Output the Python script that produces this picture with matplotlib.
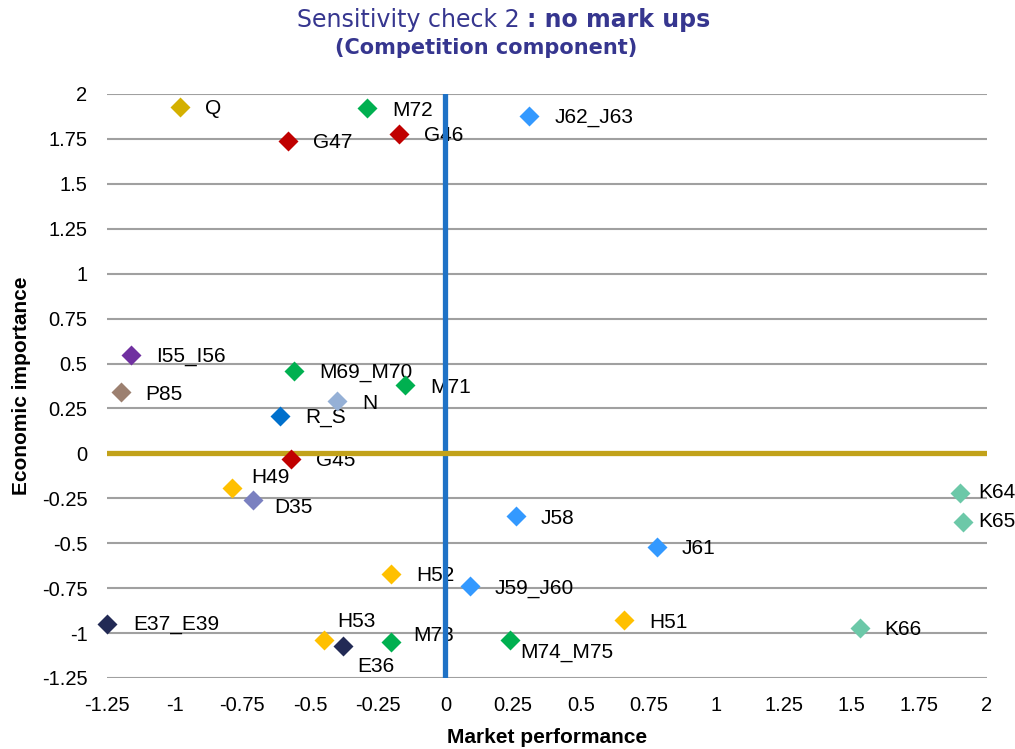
import matplotlib.pyplot as plt

plt.rcParams['axes.unicode_minus'] = False
plt.rcParams['font.family'] = ['Liberation Sans', 'DejaVu Sans']

# Sector positions: market performance (x) vs economic importance (y)
sectors = ['Q', 'M72', 'G47', 'G46', 'J62_J63', 'I55_I56', 'P85', 'M69_M70',
           'M71', 'N', 'R_S', 'G45', 'H49', 'D35', 'J58', 'J61', 'K64', 'K65',
           'H52', 'J59_J60', 'H51', 'K66', 'M74_M75', 'E37_E39', 'H53', 'E36', 'M73']
market_perf = [-0.98, -0.29, -0.58, -0.17, 0.31, -1.16, -1.20, -0.56,
               -0.15, -0.40, -0.61, -0.57, -0.79, -0.71, 0.26, 0.78, 1.90, 1.91,
               -0.20, 0.09, 0.66, 1.53, 0.24, -1.25, -0.45, -0.38, -0.20]
econ_imp = [1.93, 1.92, 1.74, 1.78, 1.88, 0.55, 0.34, 0.46,
            0.38, 0.29, 0.21, -0.03, -0.19, -0.26, -0.35, -0.52, -0.22, -0.38,
            -0.67, -0.74, -0.93, -0.97, -1.04, -0.95, -1.04, -1.07, -1.05]

x_ticks = [-1.25, -1, -0.75, -0.5, -0.25, 0, 0.25, 0.5, 0.75, 1, 1.25, 1.5, 1.75, 2]
y_ticks = [-1.25, -1, -0.75, -0.5, -0.25, 0, 0.25, 0.5, 0.75, 1, 1.25, 1.5, 1.75, 2]

# marker colour by sector group
colors = {
    'Q': '#D4B000', 'M72': '#00B050', 'G47': '#C00000', 'G46': '#C00000',
    'J62_J63': '#3399FF', 'I55_I56': '#7030A0', 'P85': '#9C8070',
    'M69_M70': '#00B050', 'M71': '#00B050', 'N': '#95B0D6', 'R_S': '#0070CC',
    'G45': '#C00000', 'H49': '#FFC000', 'D35': '#7A80C0', 'J58': '#3399FF',
    'J61': '#3399FF', 'K64': '#6CC8A8', 'K65': '#6CC8A8', 'H52': '#FFC000',
    'J59_J60': '#3399FF', 'H51': '#FFC000', 'K66': '#6CC8A8',
    'M74_M75': '#00B050', 'E37_E39': '#222A55', 'H53': '#FFC000',
    'E36': '#222A55', 'M73': '#00B050',
}

# label offsets in pixels (default is just right of the marker)
offsets = {
    'H49': (20, 10), 'D35': (21, -7), 'K64': (18, 0), 'K65': (16, 0),
    'M74_M75': (10, -12), 'H53': (14, 19), 'E36': (15, -21), 'M73': (22, 7),
    'E37_E39': (26, 0),
}

fig = plt.figure(figsize=(10.15, 7.49), dpi=100)
ax = fig.add_axes([0.1054, 0.0948, 0.8670, 0.7797])

for name, xv, yv in zip(sectors, market_perf, econ_imp):
    ax.plot(xv, yv, marker='D', ms=10.5, color=colors[name], mec='none',
            linestyle='none', zorder=4, clip_on=False)
    dx, dy = offsets.get(name, (25, -2))
    ax.annotate(name, (xv, yv), xytext=(dx, dy), textcoords='offset pixels',
                ha='left', va='center', fontsize=15, color='black', zorder=2)

# quadrant lines
ax.axvline(0, color='#1F72C6', lw=3.8, zorder=3)
ax.axhline(0, color='#C2A21A', lw=3.8, zorder=3)

ax.set_xlim(-1.25, 2)
ax.set_ylim(-1.25, 2)
ax.set_xticks(x_ticks)
ax.set_yticks(y_ticks)
ax.set_xticklabels([f'{t:g}' for t in x_ticks])
ax.set_yticklabels([f'{t:g}' for t in y_ticks])
ax.tick_params(length=0, labelsize=14.5)
ax.tick_params(axis='y', pad=14)
ax.tick_params(axis='x', pad=13)
ax.yaxis.grid(True, color='#A0A0A0', lw=1.5, zorder=1)
ax.set_axisbelow(True)
for s in ax.spines.values():
    s.set_visible(False)

ax.set_xlabel('Market performance', fontsize=15, fontweight='bold', labelpad=9)
ax.set_ylabel('Economic importance', fontsize=15, fontweight='bold', labelpad=8)

# two-weight title
title_col = '#36368F'
fig.text(520 / 1015, 1 - 20 / 749, 'Sensitivity check 2', ha='right', va='center',
         fontsize=17, color=title_col, family='DejaVu Sans')
fig.text(527 / 1015, 1 - 20 / 749, ': no mark ups', ha='left', va='center',
         fontsize=17, fontweight='bold', color=title_col, family='DejaVu Sans')
fig.text(486 / 1015, 1 - 48 / 749, '(Competition component)', ha='center', va='center',
         fontsize=15, fontweight='bold', color=title_col, family='DejaVu Sans')

fig.savefig('out.png', dpi=100)
